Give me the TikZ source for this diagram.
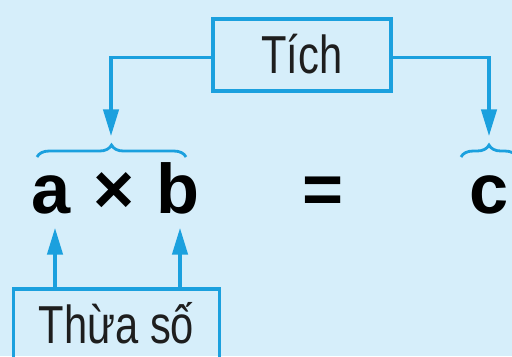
\documentclass[tikz,border=0pt]{standalone}
\usepackage{fontspec}
\setmainfont{Liberation Sans}
\usepackage{tikz}
\usetikzlibrary{arrows.meta, positioning, decorations.pathreplacing, calc}
\definecolor{skybg}{RGB}{214, 238, 250}
\definecolor{lineblue}{RGB}{27, 160, 222}
\definecolor{inkdark}{RGB}{30, 30, 30}
\tikzstyle{arrow} = [
    line width=2.2pt,
    -{Triangle[length=19pt, width=11pt]},
    color=lineblue
]
\tikzstyle{namebox} = [
    draw=lineblue, line width=2.5pt, text=inkdark,
    font=\fontsize{38}{44}\selectfont,
    text height=27pt, text depth=0pt,
    minimum height=1.8cm, inner sep=0pt
]
\tikzstyle{term} = [
    anchor=base, text=black, inner sep=0pt,
    font=\fontsize{50}{60}\selectfont\bfseries
]
\tikzstyle{bracket} = [
    lineblue, line width=2pt,
    decorate, decoration={brace, amplitude=8.5pt}
]
\newcommand{\narrow}[1]{\scalebox{0.78}[1]{#1}}

\begin{document}
\begin{tikzpicture}[x=0.025cm, y=-0.025cm]
        % Background
        \fill[skybg] (0,0) rectangle (512,356);
        \useasboundingbox (0,0) rectangle (512,356);
        \clip (0,0) rectangle (512,356);

        % Boxes
        \node[namebox, minimum width=4.45cm] (tich) at (302,55) {\narrow{Tích}};
        \node[namebox, minimum width=5.15cm] (thuaso) at (116.5,325) {\narrow{Thừa số}};

        % Expression
        \node[term] (a) at (51,213) {a};
        \node[term] (times) at (114,213) {×};
        \node[term] (b) at (178,213) {b};
        \node[term] (eq) at (323,213) {=};
        \node[term] (c) at (489,213) {c};

        % Braces
        \coordinate (abL) at (37,157);
        \coordinate (abR) at (186,157);
        \coordinate (cL) at (461,157);
        \coordinate (cR) at (517,157);
        \draw[bracket] (abL) -- (abR);
        \draw[bracket] (cL) -- (cR);

        % Arrow ends
        \coordinate (abtip) at (111,136);
        \coordinate (ctip) at (489,136);
        \coordinate (atip) at (55,228);
        \coordinate (btip) at (180,228);

        % Connectors
        \draw[arrow] ([yshift=-2pt]tich.west) -| (abtip);
        \draw[arrow] ([yshift=-2pt]tich.east) -| (ctip);
        \draw[arrow] (thuaso.north -| atip) -- (atip);
        \draw[arrow] (thuaso.north -| btip) -- (btip);
    \end{tikzpicture}
\end{document}
